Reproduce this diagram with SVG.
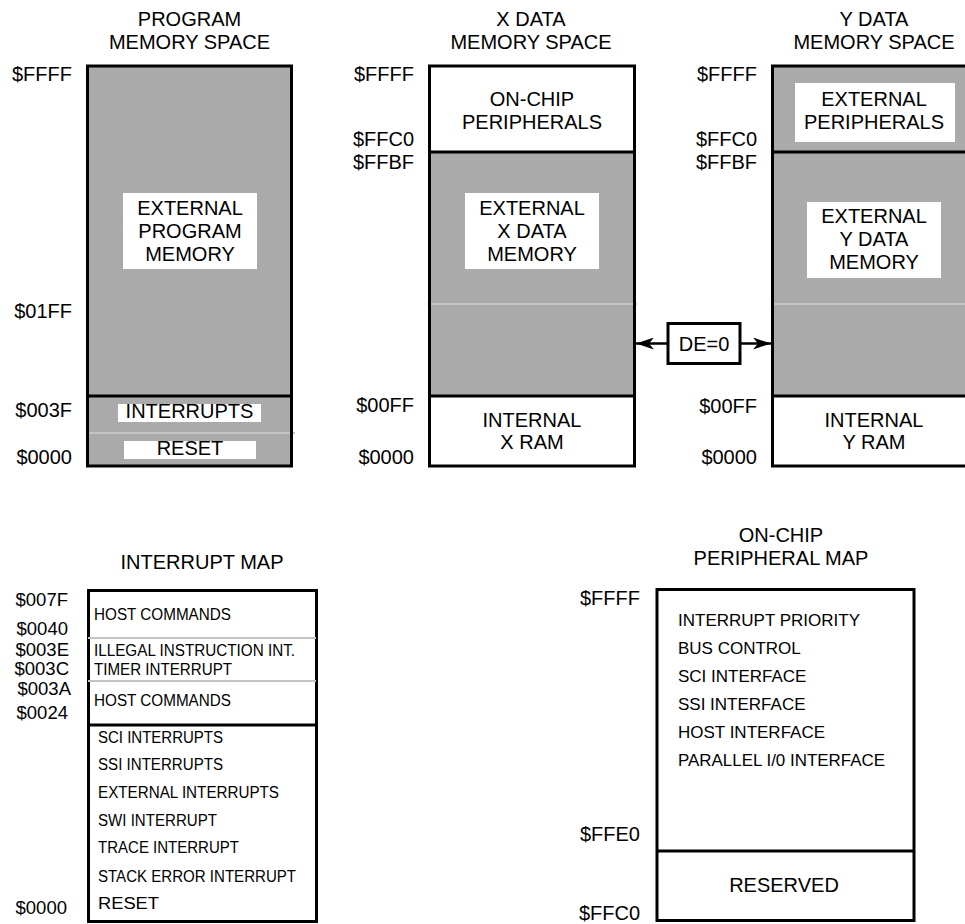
<svg xmlns="http://www.w3.org/2000/svg" width="965" height="924" viewBox="0 0 965 924">
<style>
text{font-family:"Liberation Sans",Arial,sans-serif;fill:#000}
.t{font-size:20px;text-anchor:middle}
.a{font-size:20px;text-anchor:end}
.a2{font-size:18.5px;text-anchor:end}
.s{font-size:16px}
.p{font-size:17px}
.box{stroke:#000;stroke-width:3;fill:none}
.g{fill:#aaaaaa}
.w{fill:#fff}
.lt{stroke:#c4c4c4;stroke-width:2}
.dv{stroke:#000;stroke-width:3}
</style>
<defs>
<marker id="ah" viewBox="0 0 18 12" refX="18" refY="6" markerWidth="18" markerHeight="12" markerUnits="userSpaceOnUse" orient="auto">
<path d="M0,0 L18,6 L0,12 L5,6 Z" fill="#000"/>
</marker>
</defs>
<rect width="965" height="924" fill="#fff"/>

<g id="program">
<text class="t" x="189.5" y="26">PROGRAM</text>
<text class="t" x="189.5" y="49">MEMORY SPACE</text>
<rect class="g" x="87.5" y="66" width="204" height="400"/>
<rect class="w" x="123" y="193" width="134" height="76"/>
<text class="t" x="190" y="215">EXTERNAL</text>
<text class="t" x="190" y="238">PROGRAM</text>
<text class="t" x="190" y="261">MEMORY</text>
<line class="lt" x1="87" y1="433" x2="295" y2="433"/>
<rect class="w" x="118" y="404" width="143" height="18"/>
<text class="t" x="189.5" y="418">INTERRUPTS</text>
<rect class="w" x="124" y="441" width="132" height="18"/>
<text class="t" x="190" y="455">RESET</text>
<line class="dv" x1="87.5" y1="396" x2="291.5" y2="396"/>
<rect class="box" x="87.5" y="66" width="204" height="400"/>
<text class="a" x="72" y="81">$FFFF</text>
<text class="a" x="72" y="318">$01FF</text>
<text class="a" x="72" y="417">$003F</text>
<text class="a" x="72" y="464">$0000</text>
</g>

<g id="xdata">
<text class="t" x="531" y="26">X DATA</text>
<text class="t" x="531" y="49">MEMORY SPACE</text>
<rect class="g" x="429.5" y="152" width="205" height="244"/>
<line class="lt" x1="429" y1="304" x2="637" y2="304"/>
<rect class="w" x="465" y="193" width="134" height="76"/>
<text class="t" x="532" y="215">EXTERNAL</text>
<text class="t" x="532" y="238">X DATA</text>
<text class="t" x="532" y="261">MEMORY</text>
<text class="t" x="532" y="106">ON-CHIP</text>
<text class="t" x="532" y="129">PERIPHERALS</text>
<text class="t" x="532" y="427">INTERNAL</text>
<text class="t" x="532" y="449">X RAM</text>
<line class="dv" x1="429.5" y1="152" x2="634.5" y2="152"/>
<line class="dv" x1="429.5" y1="396" x2="634.5" y2="396"/>
<rect class="box" x="429.5" y="66" width="205" height="400"/>
<text class="a" x="414" y="81">$FFFF</text>
<text class="a" x="414" y="146">$FFC0</text>
<text class="a" x="414" y="169">$FFBF</text>
<text class="a" x="414" y="412">$00FF</text>
<text class="a" x="414" y="464">$0000</text>
</g>

<g id="ydata">
<text class="t" x="874" y="26">Y DATA</text>
<text class="t" x="874" y="49">MEMORY SPACE</text>
<rect class="g" x="772.5" y="66" width="200" height="330"/>
<line class="lt" x1="772" y1="304" x2="965" y2="304"/>
<rect class="w" x="795" y="83" width="160" height="59"/>
<text class="t" x="874" y="106">EXTERNAL</text>
<text class="t" x="874" y="129">PERIPHERALS</text>
<rect class="w" x="807" y="202" width="134" height="76"/>
<text class="t" x="874" y="223">EXTERNAL</text>
<text class="t" x="874" y="246">Y DATA</text>
<text class="t" x="874" y="269">MEMORY</text>
<text class="t" x="874" y="427">INTERNAL</text>
<text class="t" x="874" y="449">Y RAM</text>
<line class="dv" x1="772.5" y1="152" x2="972" y2="152"/>
<line class="dv" x1="772.5" y1="396" x2="972" y2="396"/>
<rect class="box" x="772.5" y="66" width="200" height="400"/>
<text class="a" x="757" y="81">$FFFF</text>
<text class="a" x="757" y="146">$FFC0</text>
<text class="a" x="757" y="169">$FFBF</text>
<text class="a" x="757" y="413">$00FF</text>
<text class="a" x="757" y="464">$0000</text>
</g>

<g id="de0">
<rect x="668" y="323.5" width="72" height="40" fill="#fff" stroke="#000" stroke-width="3"/>
<text class="t" x="704" y="351">DE=0</text>
</g>

<g id="connectors">
<line x1="668" y1="343.5" x2="636" y2="343.5" stroke="#000" stroke-width="2.5" marker-end="url(#ah)"/>
<line x1="740" y1="343.5" x2="771" y2="343.5" stroke="#000" stroke-width="2.5" marker-end="url(#ah)"/>
</g>

<g id="interrupt-map">
<text class="t" x="202" y="569">INTERRUPT MAP</text>
<rect class="box" x="88.5" y="590.5" width="228" height="331"/>
<line class="lt" x1="88" y1="638" x2="316" y2="638"/>
<line class="lt" x1="88" y1="681" x2="316" y2="681"/>
<line class="dv" x1="88.5" y1="725" x2="316.5" y2="725"/>
<text class="s" x="94" y="620" textLength="137" lengthAdjust="spacingAndGlyphs">HOST COMMANDS</text>
<text class="s" x="94" y="656" textLength="201" lengthAdjust="spacingAndGlyphs">ILLEGAL INSTRUCTION INT.</text>
<text class="s" x="94" y="675" textLength="138" lengthAdjust="spacingAndGlyphs">TIMER INTERRUPT</text>
<text class="s" x="94" y="706" textLength="137" lengthAdjust="spacingAndGlyphs">HOST COMMANDS</text>
<text class="s" x="98" y="743" textLength="125" lengthAdjust="spacingAndGlyphs">SCI INTERRUPTS</text>
<text class="s" x="98" y="770" textLength="125" lengthAdjust="spacingAndGlyphs">SSI INTERRUPTS</text>
<text class="s" x="98" y="798" textLength="181" lengthAdjust="spacingAndGlyphs">EXTERNAL INTERRUPTS</text>
<text class="s" x="98" y="826" textLength="119" lengthAdjust="spacingAndGlyphs">SWI INTERRUPT</text>
<text class="s" x="98" y="853" textLength="141" lengthAdjust="spacingAndGlyphs">TRACE INTERRUPT</text>
<text class="s" x="98" y="882" textLength="198" lengthAdjust="spacingAndGlyphs">STACK ERROR INTERRUPT</text>
<text class="s" x="98" y="909" textLength="61" lengthAdjust="spacingAndGlyphs">RESET</text>
<text class="a2" x="68" y="606">$007F</text>
<text class="a2" x="68" y="635">$0040</text>
<text class="a2" x="69" y="656">$003E</text>
<text class="a2" x="69" y="675">$003C</text>
<text class="a2" x="71" y="695">$003A</text>
<text class="a2" x="68" y="719">$0024</text>
<text class="a2" x="67" y="914">$0000</text>
</g>

<g id="peripheral-map">
<text class="t" x="781" y="542">ON-CHIP</text>
<text class="t" x="781" y="565">PERIPHERAL MAP</text>
<rect class="box" x="657" y="589.5" width="257" height="331"/>
<line class="dv" x1="657" y1="851" x2="914" y2="851"/>
<text class="p" x="678" y="626">INTERRUPT PRIORITY</text>
<text class="p" x="678" y="654">BUS CONTROL</text>
<text class="p" x="678" y="682">SCI INTERFACE</text>
<text class="p" x="678" y="710">SSI INTERFACE</text>
<text class="p" x="678" y="738">HOST INTERFACE</text>
<text class="p" x="678" y="766" textLength="207" lengthAdjust="spacingAndGlyphs">PARALLEL I/0 INTERFACE</text>
<text class="t" x="784" y="892">RESERVED</text>
<text class="a" x="640" y="605">$FFFF</text>
<text class="a" x="640" y="841">$FFE0</text>
<text class="a" x="640" y="920">$FFC0</text>
</g>
</svg>
